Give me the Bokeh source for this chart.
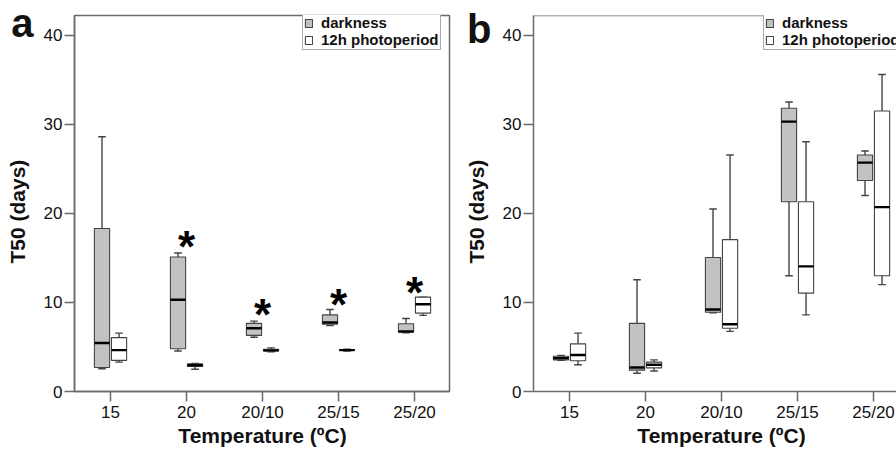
import math
from bokeh.plotting import figure
from bokeh.models import (FixedTicker, Legend, LegendItem, Span, Range1d, LinearAxis)
from bokeh.layouts import row
from bokeh.embed import file_html
from bokeh.resources import INLINE
from bokeh.core.properties import value

# ---------------- data ----------------
categories = ["15", "20", "20/10", "25/15", "25/20"]
y_ticks = [0, 10, 20, 30, 40]
series_names = ["darkness", "12h photoperiod"]
x_title = "Temperature (ºC)"
y_title = "T50 (days)"

# panel a, darkness (five-number summaries)
a_dark_min = [2.55, 4.55, 6.1, 7.4, 6.6]
a_dark_q1 = [2.7, 4.8, 6.3, 7.55, 6.65]
a_dark_med = [5.45, 10.3, 7.1, 7.75, 6.75]
a_dark_q3 = [18.3, 15.1, 7.65, 8.6, 7.6]
a_dark_max = [28.6, 15.55, 7.9, 9.2, 8.2]
# panel a, 12h photoperiod
a_photo_min = [3.3, 2.5, 4.45, 4.55, 8.55]
a_photo_q1 = [3.5, 2.8, 4.55, 4.6, 8.8]
a_photo_med = [4.65, 2.95, 4.62, 4.65, 9.8]
a_photo_q3 = [6.05, 3.1, 4.75, 4.7, 10.6]
a_photo_max = [6.55, 3.15, 4.9, 4.75, 10.6]
# panel a, significance asterisks
a_star_categories = ["20", "20/10", "25/15", "25/20"]
a_star_values = [17.2, 9.6, 10.7, 12.05]

# panel b, darkness
b_dark_min = [3.5, 2.05, 8.85, 13.0, 22.0]
b_dark_q1 = [3.55, 2.4, 8.9, 21.3, 23.7]
b_dark_med = [3.75, 2.7, 9.2, 30.3, 25.7]
b_dark_q3 = [3.95, 7.65, 15.05, 31.8, 26.55]
b_dark_max = [4.05, 12.55, 20.5, 32.5, 27.0]
# panel b, 12h photoperiod
b_photo_min = [3.0, 2.3, 6.75, 8.6, 12.0]
b_photo_q1 = [3.45, 2.65, 7.1, 11.05, 13.0]
b_photo_med = [4.1, 3.0, 7.55, 14.05, 20.7]
b_photo_q3 = [5.35, 3.3, 17.05, 21.3, 31.5]
b_photo_max = [6.55, 3.55, 26.55, 28.05, 35.6]

# ---------------- style ----------------
FONT = "Liberation Sans"
FRAME = "#6a6a6a"
BOX_LINE = "#444444"
DARK_FILL = "#c2c2c2"
PX_PER_UNIT = 76.0
X_START = -0.474
Y_END = 42.22
OFFSET = 0.112
BOX_W = 0.2
CAP_W = 0.1
H = 449
Y_TITLE_AT = 20.2      # vertical centre of the y title (data units)


def draw_series(p, xs, mn, q1, med, q3, mx, fill):
    lw = 1.4
    p.segment(x0=xs, x1=xs, y0=q3, y1=mx, line_color=BOX_LINE, line_width=lw)
    p.segment(x0=xs, x1=xs, y0=mn, y1=q1, line_color=BOX_LINE, line_width=lw)
    p.segment(x0=[x - CAP_W / 2 for x in xs], x1=[x + CAP_W / 2 for x in xs],
              y0=mx, y1=mx, line_color=BOX_LINE, line_width=lw)
    p.segment(x0=[x - CAP_W / 2 for x in xs], x1=[x + CAP_W / 2 for x in xs],
              y0=mn, y1=mn, line_color=BOX_LINE, line_width=lw)
    r = p.vbar(x=xs, width=BOX_W, bottom=q1, top=q3, fill_color=fill,
               line_color=BOX_LINE, line_width=1.1)
    p.segment(x0=[x - BOX_W / 2 for x in xs], x1=[x + BOX_W / 2 for x in xs],
              y0=med, y1=med, line_color="black", line_width=2.4)
    return r


def text_axis(tick, label, size, standoff, orientation="horizontal"):
    """A line-less, tick-less axis that only carries one text label."""
    ax = LinearAxis(ticker=FixedTicker(ticks=[tick]),
                    major_label_overrides={tick: label},
                    major_label_orientation=orientation)
    ax.axis_line_color = None
    ax.major_tick_line_color = None
    ax.minor_tick_line_color = None
    ax.major_tick_out = 0
    ax.major_tick_in = 0
    ax.major_label_standoff = standoff
    ax.major_label_text_font = FONT
    ax.major_label_text_font_style = "bold"
    ax.major_label_text_font_size = size
    ax.major_label_text_color = "#111111"
    return ax


def make_panel(letter, dark, photo, star_cats, star_vals, width, min_left,
               min_right, outline, legend_x, letter_y, letter_standoff):
    frame_w = width - min_left - min_right
    x_end = X_START + frame_w / PX_PER_UNIT
    p = figure(width=width, height=H, x_range=Range1d(X_START, x_end),
               y_range=Range1d(0, Y_END), output_backend="svg",
               toolbar_location=None, min_border_left=min_left,
               min_border_right=min_right, min_border_top=15,
               min_border_bottom=57)
    p.grid.visible = False
    p.background_fill_color = "white"
    p.border_fill_color = "white"
    p.outline_line_color = FRAME if outline else None
    p.outline_line_width = 1.5

    idx = list(range(len(categories)))
    xd = [i - OFFSET for i in idx]
    xp = [i + OFFSET for i in idx]
    r_dark = draw_series(p, xd, *dark, DARK_FILL)
    r_photo = draw_series(p, xp, *photo, "white")

    sx = [categories.index(c) for c in star_cats]
    p.text(x=sx, y=star_vals, text=["*"] * len(sx), text_font=value(FONT),
           text_font_style="bold", text_font_size="44px", text_align="center",
           text_baseline="alphabetic", y_offset=8, text_color="black")

    for ax in (p.xaxis[0], p.yaxis[0]):
        ax.axis_line_color = FRAME
        ax.axis_line_width = 1.5
        ax.major_tick_line_color = FRAME
        ax.major_tick_line_width = 1.5
        ax.major_tick_out = 10
        ax.major_tick_in = 0
        ax.minor_tick_line_color = None
        ax.major_label_text_font = FONT
        ax.major_label_text_font_size = "17px"
        ax.major_label_text_color = "#111111"
    p.xaxis.ticker = FixedTicker(ticks=idx)
    p.xaxis.major_label_overrides = {i: c for i, c in enumerate(categories)}
    p.xaxis.major_label_standoff = 1
    p.yaxis.ticker = FixedTicker(ticks=y_ticks)
    p.yaxis.major_label_standoff = 2

    # x title, centred on the middle category
    p.add_layout(text_axis(idx[len(idx) // 2], x_title, "21px", -1), "below")
    # y title (rotated), then the panel letter pulled back inwards
    p.add_layout(text_axis(Y_TITLE_AT, y_title, "21px", 11, "parallel"), "left")
    p.add_layout(text_axis(letter_y, letter, "40px", letter_standoff), "left")

    if not outline:
        p.add_layout(Span(location=Y_END, dimension="width", line_color=FRAME,
                          line_width=1.5))

    legend = Legend(items=[LegendItem(label=series_names[0], renderers=[r_dark]),
                           LegendItem(label=series_names[1], renderers=[r_photo])],
                    location=(legend_x, 341))
    legend.label_text_font = FONT
    legend.label_text_font_style = "bold"
    legend.label_text_font_size = "15px"
    legend.label_text_color = "#111111"
    legend.glyph_width = 9
    legend.glyph_height = 10
    legend.label_standoff = 8
    legend.label_height = 14
    legend.spacing = 0
    legend.padding = 1
    legend.margin = 0
    legend.border_line_color = "#555555"
    legend.border_line_width = 1.2
    legend.background_fill_alpha = 1.0
    p.add_layout(legend)
    return p


pa = make_panel("a",
                (a_dark_min, a_dark_q1, a_dark_med, a_dark_q3, a_dark_max),
                (a_photo_min, a_photo_q1, a_photo_med, a_photo_q3, a_photo_max),
                a_star_categories, a_star_values,
                width=455, min_left=74, min_right=6, outline=True,
                legend_x=228, letter_y=41.4, letter_standoff=-30)
pb = make_panel("b",
                (b_dark_min, b_dark_q1, b_dark_med, b_dark_q3, b_dark_max),
                (b_photo_min, b_photo_q1, b_photo_med, b_photo_q3, b_photo_max),
                [], [],
                width=441, min_left=78, min_right=0, outline=False,
                legend_x=230, letter_y=40.75, letter_standoff=-29)

layout = row(pa, pb)
open("out.html", "w").write(file_html(layout, INLINE))
